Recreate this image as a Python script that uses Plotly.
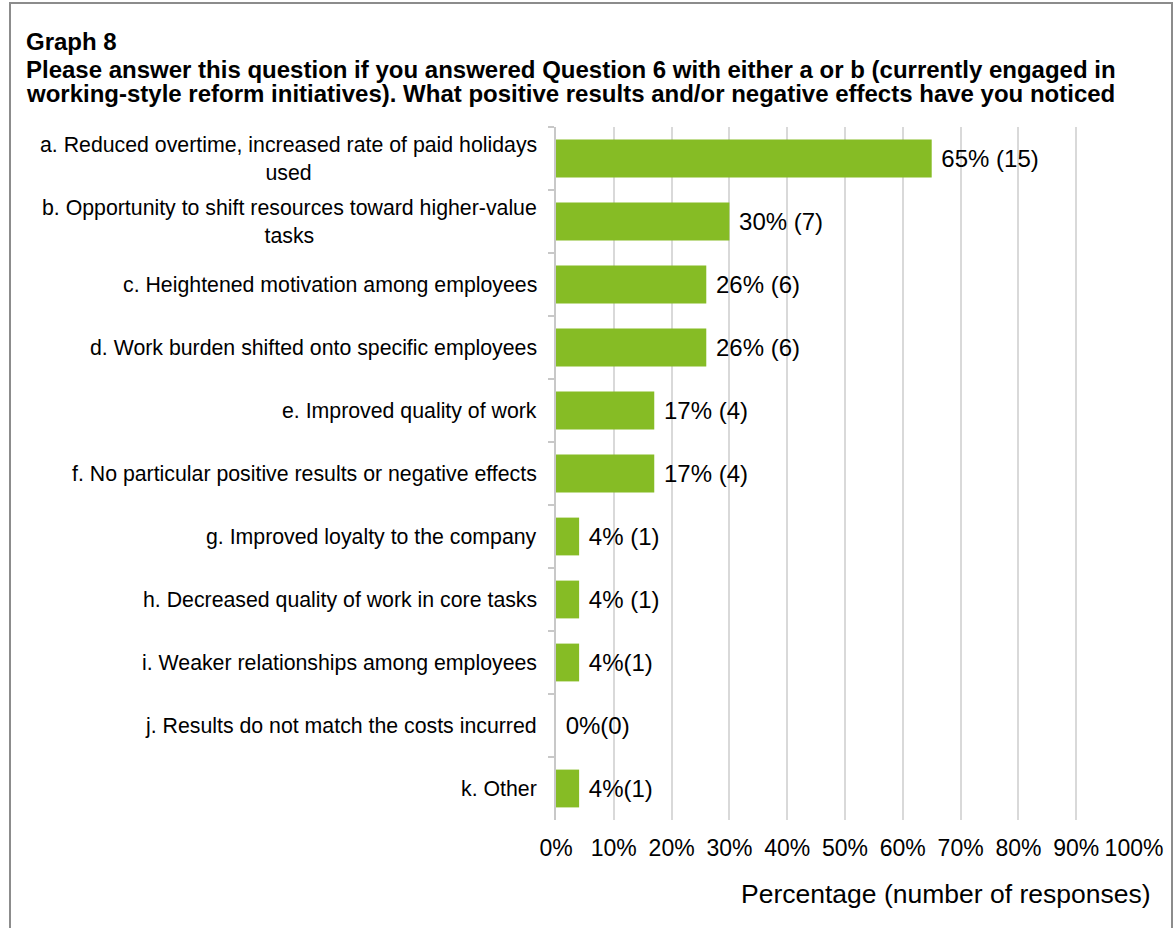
import plotly.graph_objects as go

# Survey responses (Graph 8)
categories = [
    "a. Reduced overtime, increased rate of paid holidays<br>used",
    "b. Opportunity to shift resources toward higher-value<br>tasks",
    "c. Heightened motivation among employees",
    "d. Work burden shifted onto specific employees",
    "e. Improved quality of work",
    "f. No particular positive results or negative effects",
    "g. Improved loyalty to the company",
    "h. Decreased quality of work in core tasks",
    "i. Weaker relationships among employees",
    "j. Results do not match the costs incurred",
    "k. Other",
]
percent = [65, 30, 26, 26, 17, 17, 4, 4, 4, 0, 4]
responses = [15, 7, 6, 6, 4, 4, 1, 1, 1, 0, 1]
label_gap = [" ", " ", " ", " ", " ", " ", " ", " ", "", "", ""]

title_lines = [
    "Graph 8",
    "Please answer this question if you answered Question 6 with either a or b (currently engaged in",
    "working-style reform initiatives). What positive results and/or negative effects have you noticed",
]
x_title = "Percentage (number of responses)"

FONT = "Arial, 'Liberation Sans', Helvetica, sans-serif"
GREEN = "#86BC25"
GRID = "#d9d9d9"

W, H = 1174, 928
L, R, T, B = 556, 40, 127, 108
PW, PH = W - L - R, H - T - B


def px(x):
    return (x - L) / PW


def py(y):
    return (H - B - y) / PH


labels = [f" {p}%{g}({n})" for p, g, n in zip(percent, label_gap, responses)]

fig = go.Figure(
    go.Bar(
        x=[p / 100 for p in percent],
        y=categories,
        orientation="h",
        marker=dict(color=GREEN, line=dict(width=0)),
        width=0.6,
        text=labels,
        textposition="outside",
        textfont=dict(family=FONT, size=24, color="#000000"),
        constraintext="none",
        cliponaxis=False,
        hoverinfo="skip",
    )
)

annotations = []
# category labels, centred text block right-aligned to the axis
for c in categories:
    annotations.append(dict(
        x=px(539), xref="paper", xanchor="right",
        y=c, yref="y", yanchor="middle",
        text=c, align="center", showarrow=False,
        font=dict(family=FONT, size=21.3, color="#000000"),
    ))

# chart heading, one annotation per line
title_base = [50, 78, 102]
for line, base in zip(title_lines, title_base):
    annotations.append(dict(
        x=px(25), xref="paper", xanchor="left",
        y=py(base), yref="paper", yanchor="bottom",
        text=f"<b>{line}</b>", showarrow=False, align="left",
        font=dict(family=FONT, size=24, color="#000000"),
        borderpad=0, yshift=-6,
    ))

# axis caption
annotations.append(dict(
    x=px(1153), xref="paper", xanchor="right",
    y=py(894), yref="paper", yanchor="middle",
    text=x_title, showarrow=False,
    font=dict(family=FONT, size=26.5, color="#000000"),
))

fig.update_layout(
    width=W, height=H,
    margin=dict(l=L, r=R, t=T, b=B, pad=0),
    paper_bgcolor="white", plot_bgcolor="white",
    showlegend=False,
    bargap=0.4,
    annotations=annotations,
    shapes=[dict(
        type="rect", xref="paper", yref="paper",
        x0=px(10), x1=px(1172), y0=py(960), y1=py(3),
        line=dict(color="#8c8c8c", width=2), fillcolor="rgba(0,0,0,0)",
        layer="below",
    )],
    font=dict(family=FONT, color="#000000"),
)

fig.update_xaxes(
    range=[0, 1], dtick=0.1, tick0=0, tickformat=".0%",
    showgrid=True, gridcolor=GRID, gridwidth=2,
    zeroline=False, showline=False, ticks="",
    tickfont=dict(family=FONT, size=23, color="#000000"),
    ticklabelstandoff=12,
    fixedrange=True,
)
fig.update_yaxes(
    type="category", autorange="reversed",
    showticklabels=False, showgrid=False,
    showline=True, linecolor="#c8c8c8", linewidth=2,
    ticks="outside", tickson="boundaries", ticklen=6, tickcolor="#c8c8c8", tickwidth=2,
    fixedrange=True,
)

fig.write_html("out.html")
